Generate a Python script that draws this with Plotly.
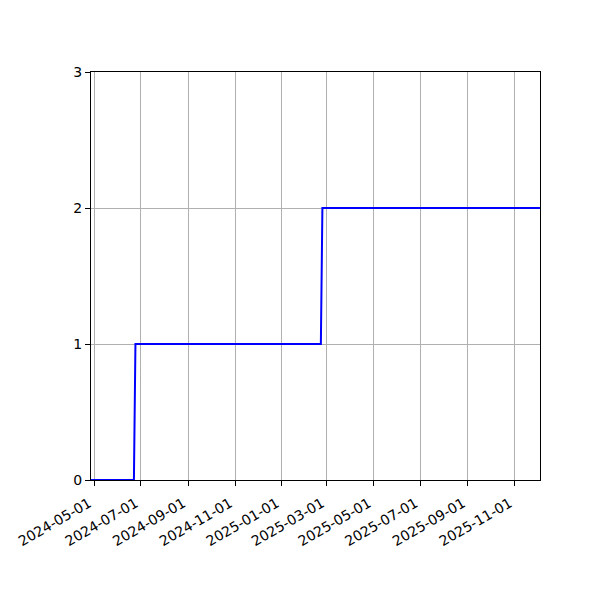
import plotly.graph_objects as go

# cumulative count, corner points
dates = ["2024-04-27", "2024-06-22", "2024-06-24", "2025-02-21", "2025-02-23", "2025-12-04"]
counts = [0, 0, 1, 1, 2, 2]

fig = go.Figure()
fig.add_trace(go.Scatter(
    x=dates, y=counts, mode="lines",
    line=dict(color="blue", width=2),
    showlegend=False,
))

axis_style = dict(
    showline=True, linecolor="black", linewidth=1, mirror=True,
    ticks="outside", ticklen=5, tickcolor="black", tickwidth=1,
    showgrid=True, gridcolor="#b0b0b0", gridwidth=1,
    zeroline=False, automargin=False,
    tickfont=dict(family="DejaVu Sans", size=14, color="black"),
)

fig.update_xaxes(
    range=["2024-04-27", "2025-12-04"],
    tick0="2024-05-01", dtick="M2", tickformat="%Y-%m-%d",
    tickangle=-30, ticklabelstandoff=4, ticklabelshift=-5,
    **axis_style,
)
fig.update_yaxes(range=[0, 3], tickvals=[0, 1, 2, 3], **axis_style)

fig.update_layout(
    width=600, height=600,
    margin=dict(l=83, r=68, t=64, b=128),
    plot_bgcolor="white", paper_bgcolor="white",
)

fig.write_html("out.html")
